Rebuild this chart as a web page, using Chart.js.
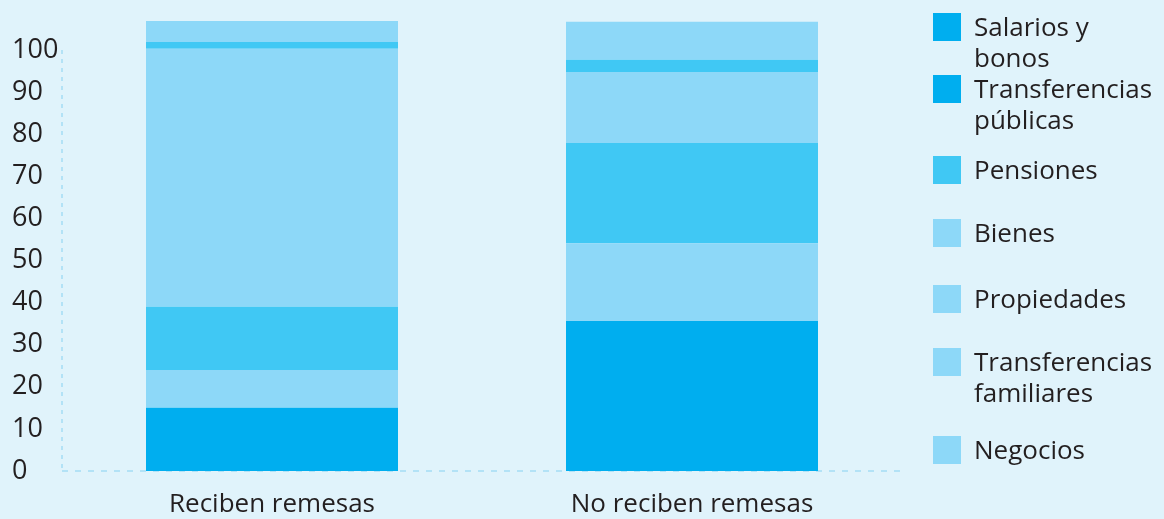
<!DOCTYPE html>
<html>
<head>
<meta charset="utf-8">
<script src="https://cdn.jsdelivr.net/npm/chart.js@4/dist/chart.umd.min.js"></script>
<style>
    html, body { margin: 0; padding: 0; background: #E0F3FB; }
    #contenedor { position: relative; width: 1164px; height: 519px; }
    #grafica { position: absolute; left: 0; top: 0; }
    .leyenda { position: absolute; left: 933px; font-family: "Open Sans", sans-serif; font-size: 26px; color: #231F20; }
    .leyenda .cuadro { position: absolute; left: 0; top: 0; width: 28px; height: 28px; }
    .leyenda .texto { position: absolute; left: 41px; top: -2px; line-height: 31px; white-space: nowrap; }
</style>
</head>
<body>
<div id="contenedor">
    <canvas id="grafica" width="1164" height="519"></canvas>
</div>
<script>
var categorias = ["Reciben remesas", "No reciben remesas"];
var series = ["Salarios y bonos", "Transferencias públicas", "Pensiones", "Bienes", "Propiedades", "Transferencias familiares", "Negocios"];

var salarios = [15.0, 35.6];
var transPublicas = [0, 0];
var pensiones = [9.0, 18.5];
var bienes = [15.0, 23.8];
var propiedades = [61.3, 16.9];
var transFamiliares = [1.6, 2.9];
var negocios = [5.0, 9.0];

var ticksY = [0, 10, 20, 30, 40, 50, 60, 70, 80, 90, 100];

var azul = "#00AEEF";
var azulMedio = "#40C8F4";
var azulClaro = "#8DD8F8";
var lineaEje = "#B3E2F6";
var fuente = "Open Sans";

// colores de cada tramo en la barra y del cuadro en la leyenda
var coloresBarra = [azul, azul, azulClaro, azulMedio, azulClaro, azulMedio, azulClaro];
var coloresLeyenda = [azul, azul, azulMedio, azulClaro, azulClaro, azulClaro, azulClaro];
var lineasLeyenda = [["Salarios y", "bonos"], ["Transferencias", "públicas"], ["Pensiones"], ["Bienes"], ["Propiedades"], ["Transferencias", "familiares"], ["Negocios"]];
var topLeyenda = [13, 75, 156, 219, 285, 348, 436];

function armarDatasets() {
    var valores = [salarios, transPublicas, pensiones, bienes, propiedades, transFamiliares, negocios];
    var ds = [];
    for (var i = 0; i < series.length; i++) {
        ds.push({
            label: series[i],
            data: valores[i],
            backgroundColor: coloresBarra[i],
            borderWidth: 0,
            clip: false,
            categoryPercentage: 1,
            barPercentage: 0.6
        });
    }
    return ds;
}

function armarLeyenda() {
    var cont = document.getElementById("contenedor");
    for (var i = 0; i < series.length; i++) {
        var item = document.createElement("div");
        item.className = "leyenda";
        item.style.top = topLeyenda[i] + "px";
        var cuadro = document.createElement("div");
        cuadro.className = "cuadro";
        cuadro.style.background = coloresLeyenda[i];
        var texto = document.createElement("div");
        texto.className = "texto";
        texto.innerHTML = lineasLeyenda[i].join("<br>");
        item.appendChild(cuadro);
        item.appendChild(texto);
        cont.appendChild(item);
    }
}

// ejes punteados (el borde de chart.js no admite guiones)
var ejesPunteados = {
    id: 'ejesPunteados',
    beforeDatasetsDraw: function (chart) {
        var c = chart.ctx;
        var a = chart.chartArea;
        c.save();
        c.strokeStyle = lineaEje;
        c.lineWidth = 2;
        c.setLineDash([4, 5]);
        c.beginPath();
        c.moveTo(a.left, a.top);
        c.lineTo(a.left, a.bottom);
        c.stroke();
        c.setLineDash([6, 7]);
        c.beginPath();
        c.moveTo(a.left, a.bottom);
        c.lineTo(a.right, a.bottom);
        c.stroke();
        c.restore();
    }
};

function grafica() {
    var ctx = document.getElementById("grafica").getContext('2d');
    var miGrafica = new Chart(ctx, {
        type: 'bar',
        data: {
            labels: categorias,
            datasets: armarDatasets()
        },
        options: {
            responsive: false,
            animation: false,
            events: [],
            layout: {
                padding: { top: 50, right: 262, bottom: 0, left: 12 }
            },
            plugins: {
                legend: { display: false },
                tooltip: { enabled: false }
            },
            scales: {
                x: {
                    stacked: true,
                    afterFit: function (scale) {
                        scale.height = 48;
                    },
                    grid: { display: false, drawTicks: false },
                    border: { display: false },
                    ticks: {
                        padding: 18,
                        color: "#231F20",
                        font: { family: fuente, size: 26 }
                    }
                },
                y: {
                    stacked: true,
                    min: 0,
                    max: 100,
                    afterBuildTicks: function (scale) {
                        scale.ticks = ticksY.map(function (v) { return { value: v }; });
                    },
                    afterFit: function (scale) {
                        scale.width = 50;
                    },
                    grid: { display: false, drawTicks: false },
                    border: { display: false },
                    ticks: {
                        crossAlign: 'far',
                        padding: 4,
                        color: "#231F20",
                        font: { family: fuente, size: 27 }
                    }
                }
            }
        },
        plugins: [ejesPunteados]
    });
    return miGrafica;
}

grafica();
armarLeyenda();
</script>
</body>
</html>
